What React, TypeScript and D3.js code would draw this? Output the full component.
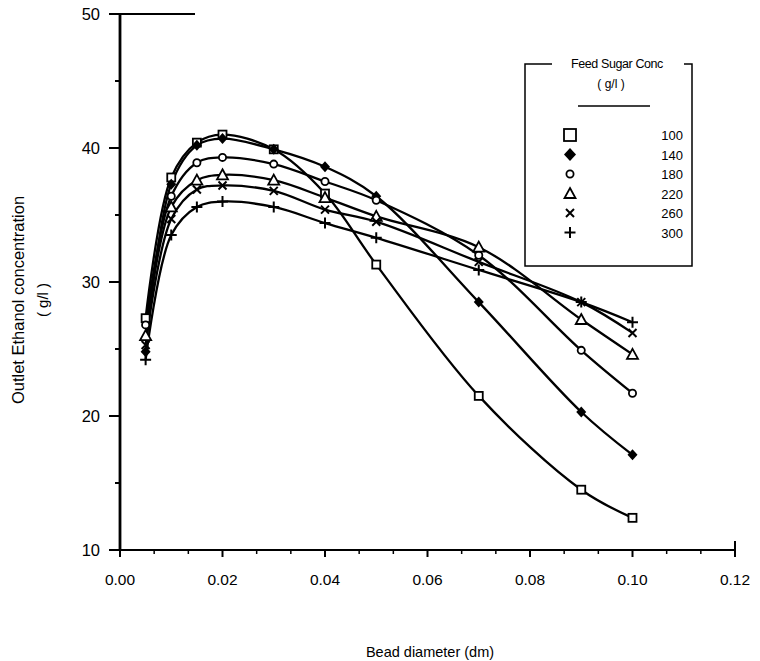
import React, { useEffect, useRef } from 'react';
import * as d3 from 'd3';

// bead diameter (dm) at which each concentration was computed
const beadDiameter = [0.005, 0.01, 0.015, 0.02, 0.03, 0.04, 0.05, 0.07, 0.09, 0.1];

// outlet ethanol (g/l) per feed sugar concentration
const sugar100 = [27.3, 37.8, 40.4, 41.0, 39.9, 36.6, 31.3, 21.5, 14.5, 12.4];
const sugar140 = [24.8, 37.3, 40.2, 40.7, 39.9, 38.6, 36.4, 28.5, 20.3, 17.1];
const sugar180 = [26.8, 36.4, 38.9, 39.3, 38.8, 37.5, 36.1, 32.0, 24.9, 21.7];
const sugar220 = [26.0, 35.6, 37.6, 38.0, 37.6, 36.3, 34.9, 32.6, 27.2, 24.6];
const sugar260 = [25.3, 34.7, 36.9, 37.2, 36.8, 35.4, 34.5, 31.5, 28.5, 26.2];
const sugar300 = [24.2, 33.5, 35.6, 36.0, 35.6, 34.4, 33.3, 30.9, 28.5, 27.0];

const seriesLabels = ['100', '140', '180', '220', '260', '300'];
const seriesValues = [sugar100, sugar140, sugar180, sugar220, sugar260, sugar300];
const seriesMarkers = ['square', 'diamond', 'circle', 'triangle', 'cross', 'plus'];

const xTicks = [0, 0.02, 0.04, 0.06, 0.08, 0.1, 0.12];
const yTicks = [10, 20, 30, 40, 50];

const FONT = 'Liberation Sans, Arial, sans-serif';

// draws one marker centred at (cx, cy); s scales the symbol
function drawMarker(g, kind, cx, cy, s) {
  const t = `translate(${cx},${cy})`;
  if (kind === 'square') {
    g.append('rect')
      .attr('x', cx - 4 * s).attr('y', cy - 4 * s)
      .attr('width', 8 * s).attr('height', 8 * s)
      .attr('fill', '#fff').attr('stroke', '#000').attr('stroke-width', 1.8);
  } else if (kind === 'diamond') {
    g.append('path')
      .attr('transform', t)
      .attr('d', `M0,${-5.5 * s}L${5 * s},0L0,${5.5 * s}L${-5 * s},0Z`)
      .attr('fill', '#000');
  } else if (kind === 'circle') {
    g.append('circle')
      .attr('cx', cx).attr('cy', cy).attr('r', 3.6 * s)
      .attr('fill', '#fff').attr('stroke', '#000').attr('stroke-width', 1.8);
  } else if (kind === 'triangle') {
    g.append('path')
      .attr('transform', t)
      .attr('d', `M0,${-5.5 * s}L${5.5 * s},${4.5 * s}L${-5.5 * s},${4.5 * s}Z`)
      .attr('fill', '#fff').attr('stroke', '#000').attr('stroke-width', 1.8);
  } else if (kind === 'cross') {
    const r = 4 * s;
    g.append('path')
      .attr('transform', t)
      .attr('d', `M${-r},${-r}L${r},${r}M${-r},${r}L${r},${-r}`)
      .attr('stroke', '#000').attr('stroke-width', 2);
  } else {
    const r = 5.5 * s;
    g.append('path')
      .attr('transform', t)
      .attr('d', `M${-r},0L${r},0M0,${-r}L0,${r}`)
      .attr('stroke', '#000').attr('stroke-width', 2);
  }
}

const EthanolChart = ({ width = 760, height = 661 }) => {
  const svgRef = useRef(null);

  useEffect(() => {
    const svg = d3.select(svgRef.current);
    svg.selectAll('*').remove();

    const x = d3.scaleLinear().domain([0, 0.12]).range([120, 735]);
    const y = d3.scaleLinear().domain([10, 50]).range([550, 14]);

    const axes = svg.append('g').attr('stroke', '#000');

    // y axis with ticks pointing left
    axes.append('line')
      .attr('x1', x(0)).attr('x2', x(0)).attr('y1', y(50)).attr('y2', y(10))
      .attr('stroke-width', 2.8);
    d3.range(10, 50.1, 5).forEach((v) => {
      const major = v % 10 === 0;
      axes.append('line')
        .attr('x1', x(0) - (major ? 11 : 5)).attr('x2', x(0))
        .attr('y1', y(v)).attr('y2', y(v))
        .attr('stroke-width', 2);
    });
    // short stub of top frame
    axes.append('line')
      .attr('x1', x(0)).attr('x2', 195).attr('y1', y(50)).attr('y2', y(50))
      .attr('stroke-width', 2);

    // x axis with ticks pointing down
    axes.append('line')
      .attr('x1', x(0) - 11).attr('x2', x(0.12)).attr('y1', y(10)).attr('y2', y(10))
      .attr('stroke-width', 2.2);
    d3.range(0, 18.5, 1).forEach((i) => {
      const major = i % 3 === 0;
      const v = (i * 0.02) / 3;
      axes.append('line')
        .attr('x1', x(v)).attr('x2', x(v))
        .attr('y1', y(10)).attr('y2', y(10) + (major ? 7 : 4))
        .attr('stroke-width', major ? 2 : 1.5);
    });
    axes.append('line')
      .attr('x1', x(0.12)).attr('x2', x(0.12))
      .attr('y1', y(10) - 9).attr('y2', y(10) + 7)
      .attr('stroke-width', 2);

    // tick labels
    svg.append('g')
      .selectAll('text')
      .data(yTicks)
      .join('text')
      .attr('x', 100).attr('y', (d) => y(d) + 6)
      .attr('text-anchor', 'end')
      .attr('font-family', FONT).attr('font-size', 16.5)
      .text((d) => d);
    svg.append('g')
      .selectAll('text')
      .data(xTicks)
      .join('text')
      .attr('x', (d) => x(d)).attr('y', 585)
      .attr('text-anchor', 'middle')
      .attr('font-family', FONT).attr('font-size', 15.5)
      .text((d) => d.toFixed(2));

    // axis titles
    svg.append('text')
      .attr('x', 430).attr('y', 657)
      .attr('text-anchor', 'middle')
      .attr('font-family', FONT).attr('font-size', 14.5)
      .text('Bead diameter (dm)');
    const yTitle = svg.append('g').attr('transform', 'translate(24,300) rotate(-90)');
    yTitle.append('text')
      .attr('text-anchor', 'middle')
      .attr('font-family', FONT).attr('font-size', 16.5)
      .text('Outlet Ethanol concentration');
    yTitle.append('text')
      .attr('y', 24)
      .attr('text-anchor', 'middle')
      .attr('font-family', FONT).attr('font-size', 15)
      .text('( g/l )');

    // curves
    const line = d3.line()
      .x((d) => x(d[0]))
      .y((d) => y(d[1]))
      .curve(d3.curveCatmullRom.alpha(0.5));

    seriesValues.forEach((vals) => {
      svg.append('path')
        .datum(beadDiameter.map((b, i) => [b, vals[i]]))
        .attr('d', line)
        .attr('fill', 'none')
        .attr('stroke', '#000')
        .attr('stroke-width', 2.3);
    });

    const marks = svg.append('g');
    seriesValues.forEach((vals, k) => {
      vals.forEach((v, i) => drawMarker(marks, seriesMarkers[k], x(beadDiameter[i]), y(v), 1));
    });

    // legend
    const lg = svg.append('g');
    const box = { left: 525, right: 692, top: 64, bottom: 266 };
    lg.append('path')
      .attr('d', `M552,${box.top}H${box.left}V${box.bottom}H${box.right}V${box.top}H684`)
      .attr('fill', 'none').attr('stroke', '#000').attr('stroke-width', 1.5);
    lg.append('text')
      .attr('x', 617).attr('y', 68)
      .attr('text-anchor', 'middle')
      .attr('font-family', FONT).attr('font-size', 12.5).attr('letter-spacing', -0.4)
      .text('Feed Sugar Conc');
    lg.append('text')
      .attr('x', 611).attr('y', 88)
      .attr('text-anchor', 'middle')
      .attr('font-family', FONT).attr('font-size', 12)
      .text('( g/l )');
    lg.append('line')
      .attr('x1', 578).attr('x2', 650).attr('y1', 106).attr('y2', 106)
      .attr('stroke', '#000').attr('stroke-width', 1.5);

    seriesLabels.forEach((lab, k) => {
      const cy = 135 + k * 19.5;
      drawMarker(lg, seriesMarkers[k], 570, cy, k === 0 ? 1.5 : k === 1 ? 1.2 : 1);
      lg.append('text')
        .attr('x', 683).attr('y', cy + 5)
        .attr('text-anchor', 'end')
        .attr('font-family', FONT).attr('font-size', 13)
        .text(lab);
    });
  }, []);

  return (
    <svg
      ref={svgRef}
      width={width}
      height={height}
      style={{ position: 'absolute', left: 0, top: 0, background: '#fff' }}
    />
  );
};

export default function App() {
  return <EthanolChart />;
}
